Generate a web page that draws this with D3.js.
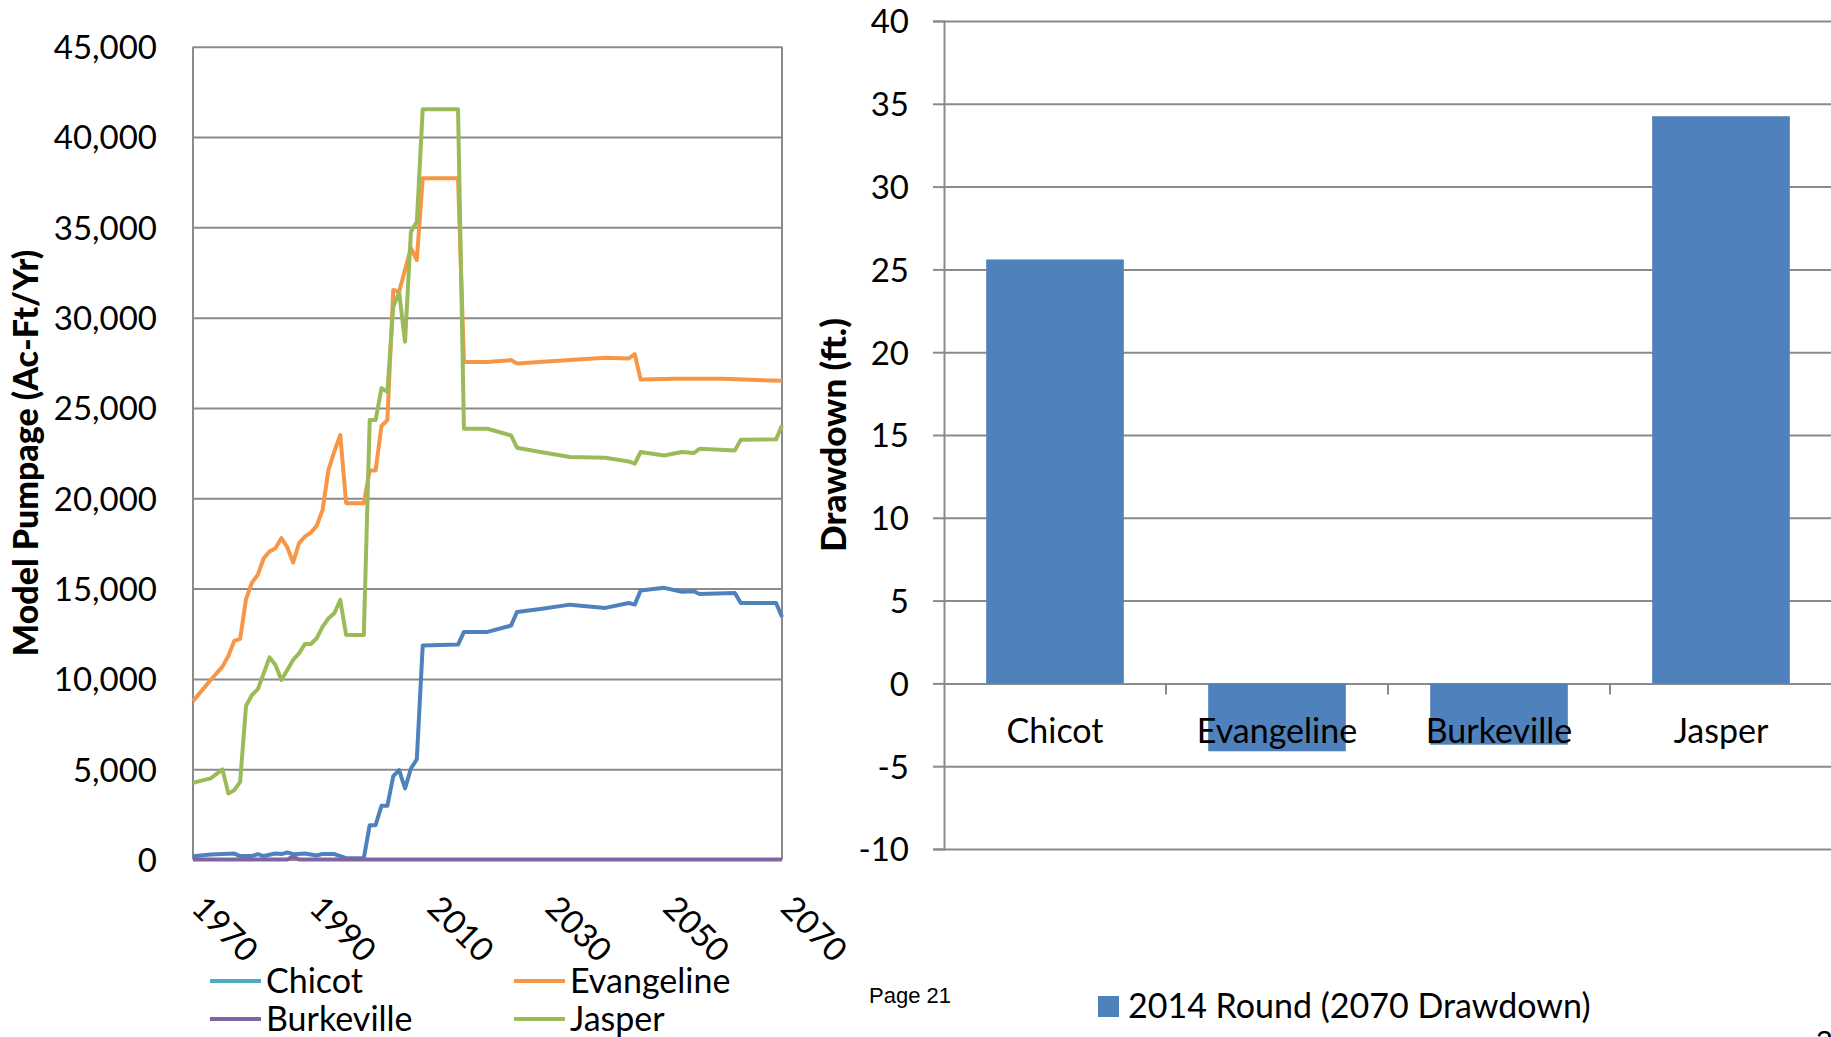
<!DOCTYPE html>
<html>
<head>
<meta charset="utf-8">
<script src="https://cdn.jsdelivr.net/npm/d3@7"></script>
<style>
	body { margin: 0; background: #fff; }
	svg { display: block; font-family: Lato, "Open Sans", sans-serif; }
	.grid line { stroke: #8a8a8a; stroke-width: 2; }
	.grid path { display: none; }
</style>
</head>
<body>
<svg id="charts" width="1831" height="1037" viewBox="0 0 1831 1037"></svg>
<script>

// --- left chart: model pumpage (Ac-Ft/Yr) by year ---
const chicot_pumpage = [[1970,180],[1973,280],[1977,330],[1978,190],[1980,190],[1981,300],[1982,190],[1984,330],[1985,300],[1986,390],[1987,290],[1989,330],[1991,220],[1992,310],[1994,300],[1996,75],[1999,75],[2000,1900],[2001,1900],[2002,2970],[2003,2970],[2004,4620],[2005,4950],[2006,3930],[2007,5040],[2008,5550],[2009,11850],[2015,11900],[2016,12600],[2020,12600],[2024,12950],[2025,13700],[2029,13870],[2034,14110],[2040,13930],[2044,14200],[2045,14110],[2046,14890],[2050,15040],[2053,14820],[2055,14850],[2056,14700],[2062,14760],[2063,14200],[2069,14200],[2070,13430]];
const evangeline_pumpage = [[1970,8770],[1973,9940],[1975,10680],[1976,11270],[1977,12100],[1978,12210],[1979,14410],[1980,15330],[1981,15760],[1982,16680],[1983,17050],[1984,17230],[1985,17790],[1986,17290],[1987,16440],[1988,17510],[1989,17880],[1990,18100],[1991,18470],[1992,19360],[1993,21570],[1994,22590],[1995,23500],[1996,19730],[1999,19730],[2000,21540],[2001,21540],[2002,24000],[2003,24330],[2004,31530],[2005,31450],[2007,33850],[2008,33190],[2009,37710],[2015,37710],[2016,27550],[2020,27550],[2024,27650],[2025,27460],[2034,27650],[2040,27780],[2044,27740],[2045,27980],[2046,26570],[2052,26610],[2060,26610],[2070,26500]];
const burkeville_pumpage = [[1970,0],[1986,0],[1987,170],[1988,0],[2070,0]];
const jasper_pumpage = [[1970,4250],[1973,4490],[1975,4990],[1976,3660],[1977,3840],[1978,4300],[1979,8500],[1980,9110],[1981,9420],[1983,11190],[1984,10770],[1985,9940],[1986,10490],[1987,11050],[1988,11410],[1989,11930],[1990,11930],[1991,12250],[1992,12890],[1993,13350],[1994,13630],[1995,14370],[1996,12430],[1999,12430],[2000,24330],[2001,24330],[2002,26090],[2003,25900],[2004,30610],[2005,31400],[2006,28670],[2007,34760],[2008,35300],[2009,41535],[2015,41535],[2016,23850],[2020,23850],[2024,23480],[2025,22800],[2029,22560],[2034,22280],[2040,22240],[2044,22040],[2045,21910],[2046,22560],[2050,22370],[2053,22560],[2055,22500],[2056,22740],[2062,22650],[2063,23240],[2069,23260],[2070,24040]];
const pumpage_ticks = [0, 5000, 10000, 15000, 20000, 25000, 30000, 35000, 40000, 45000];
const year_ticks = [1970, 1990, 2010, 2030, 2050, 2070];
const series_names = ["Chicot", "Evangeline", "Burkeville", "Jasper"];

// --- right chart: 2070 drawdown (ft.) ---
const aquifers = ["Chicot", "Evangeline", "Burkeville", "Jasper"];
const drawdown_2070 = [25.6, -4.1, -3.7, 34.25];
const drawdown_ticks = [-10, -5, 0, 5, 10, 15, 20, 25, 30, 35, 40];

class PumpageAndDrawdown {

	makeLines() {
		const x = d3.scaleLinear().domain([1970, 2070]).range([193, 782]);
		const y = d3.scaleLinear().domain([0, 45000]).range([859.5, 46.7]);

		const line_colors = ["#4f81bd", "#f79646", "#8064a2", "#9bbb59"];
		const legend_colors = ["#4bacc6", "#f79646", "#8064a2", "#9bbb59"];
		const all_series = [chicot_pumpage, evangeline_pumpage, burkeville_pumpage, jasper_pumpage];

		// gridlines
		this.svg.append("g")
			.classed("grid", true)
			.attr("transform", "translate(193,0)")
			.call(d3.axisLeft(y).tickValues(pumpage_ticks).tickSize(-589).tickFormat(""));

		// plot frame (left, right)
		this.svg.append("g").selectAll("line")
			.data([193, 782])
			.enter().append("line")
			.attr("x1", (d) => d).attr("x2", (d) => d)
			.attr("y1", y(45000)).attr("y2", y(0))
			.style("stroke", "#8a8a8a").style("stroke-width", 2);

		// y labels
		const y_axis = this.svg.append("g")
			.attr("transform", "translate(193,0)")
			.call(d3.axisLeft(y).tickValues(pumpage_ticks).tickSize(0).tickPadding(36).tickFormat(d3.format(",")));
		y_axis.select(".domain").remove();
		y_axis.selectAll("text")
			.attr("dy", "0.36em")
			.style("font-family", "Lato")
			.style("font-size", "33px")
			.style("fill", "#000");

		// x labels, rotated
		this.svg.append("g").selectAll("text")
			.data(year_ticks)
			.enter().append("text")
			.attr("transform", (d) => "translate(" + (x(d) - 3) + ",910) rotate(45)")
			.text((d) => d)
			.style("font-size", "33px");

		const path_generator = d3.line()
			.x((d) => x(d[0]))
			.y((d) => y(d[1]));

		this.svg.append("g").selectAll(".pumpage-line")
			.data(all_series)
			.enter().append("path")
			.classed("pumpage-line", true)
			.attr("d", path_generator)
			.style("fill", "none")
			.style("stroke", (d, i) => line_colors[i])
			.style("stroke-width", 4)
			.style("stroke-linejoin", "round");

		// axis title
		this.svg.append("text")
			.attr("transform", "translate(38,453) rotate(-90)")
			.attr("text-anchor", "middle")
			.text("Model Pumpage (Ac-Ft/Yr)")
			.attr("font-weight", 900)
			.style("font-size", "34px");

		// legend, 2 columns
		const legend = this.svg.append("g").selectAll("g")
			.data(series_names)
			.enter().append("g")
			.attr("transform", (d, i) => "translate(" + [210, 514][i % 2] + "," + [981, 1019][Math.floor(i / 2)] + ")");
		legend.append("line")
			.attr("x1", 0).attr("x2", 51)
			.style("stroke", (d, i) => legend_colors[i])
			.style("stroke-width", 4);
		legend.append("text")
			.attr("x", 56)
			.attr("dy", "0.36em")
			.text((d) => d)
			.style("font-size", "34px");
	}

	makeBars() {
		const x = d3.scaleBand()
			.domain(aquifers)
			.range([944, 1832])
			.paddingInner(0.38)
			.paddingOuter(0.19);
		const y = d3.scaleLinear().domain([-10, 40]).range([849, 21]);

		this.svg.append("g")
			.classed("grid", true)
			.attr("transform", "translate(944,0)")
			.call(d3.axisLeft(y).tickValues(drawdown_ticks).tickSize(-888).tickFormat(""));

		const y_axis = this.svg.append("g")
			.attr("transform", "translate(944,0)")
			.call(d3.axisLeft(y).tickValues(drawdown_ticks).tickSize(11).tickPadding(24).tickFormat((d) => String(d)));
		y_axis.select(".domain").style("stroke", "#8a8a8a").style("stroke-width", 2);
		y_axis.selectAll(".tick line").style("stroke", "#8a8a8a").style("stroke-width", 2);
		y_axis.selectAll("text")
			.attr("dy", "0.36em")
			.style("font-family", "Lato")
			.style("font-size", "33px")
			.style("fill", "#000");

		this.svg.append("g").selectAll("rect")
			.data(aquifers)
			.enter().append("rect")
			.attr("x", (d) => x(d))
			.attr("width", x.bandwidth())
			.attr("y", (d, i) => y(Math.max(0, drawdown_2070[i])))
			.attr("height", (d, i) => Math.abs(y(drawdown_2070[i]) - y(0)))
			.style("fill", "#4f81bd");

		// category separators on the zero line
		const step = x.step();
		this.svg.append("g").selectAll("line")
			.data(aquifers.slice(1))
			.enter().append("line")
			.attr("x1", (d) => x(d) - step * x.paddingInner() / 2)
			.attr("x2", (d) => x(d) - step * x.paddingInner() / 2)
			.attr("y1", y(0)).attr("y2", y(0) + 11)
			.style("stroke", "#8a8a8a").style("stroke-width", 2);

		this.svg.append("g").selectAll("text")
			.data(aquifers)
			.enter().append("text")
			.attr("x", (d) => x(d) + x.bandwidth() / 2)
			.attr("y", 743)
			.attr("text-anchor", "middle")
			.text((d) => d)
			.style("font-size", "34px");

		this.svg.append("text")
			.attr("transform", "translate(846,435) rotate(-90)")
			.attr("text-anchor", "middle")
			.text("Drawdown (ft.)")
			.attr("font-weight", 900)
			.style("font-size", "35px");

		this.svg.append("rect")
			.attr("x", 1098).attr("y", 996)
			.attr("width", 21).attr("height", 21)
			.style("fill", "#4f81bd");
		this.svg.append("text")
			.attr("x", 1128).attr("y", 1006)
			.attr("dy", "0.36em")
			.text("2014 Round (2070 Drawdown)")
			.style("font-size", "34px");
	}

	constructor(svg_element_id) {
		this.svg = d3.select("#" + svg_element_id);
		this.makeLines();
		this.makeBars();

		this.svg.append("text")
			.attr("x", 869).attr("y", 1003)
			.text("Page 21")
			.style("font-family", "Liberation Sans")
			.style("font-size", "22px");
		// slide number, cut off by the bottom edge as in the source
		this.svg.append("text")
			.attr("x", 1816).attr("y", 1051)
			.text("2")
			.style("font-family", "Liberation Sans")
			.style("font-size", "30px");
	}
}

function whenDocumentLoaded(action) {
	if (document.readyState === "loading") {
		document.addEventListener("DOMContentLoaded", action);
	} else {
		action();
	}
}

whenDocumentLoaded(() => {
	plot_object = new PumpageAndDrawdown("charts");
});
</script>
</body>
</html>
